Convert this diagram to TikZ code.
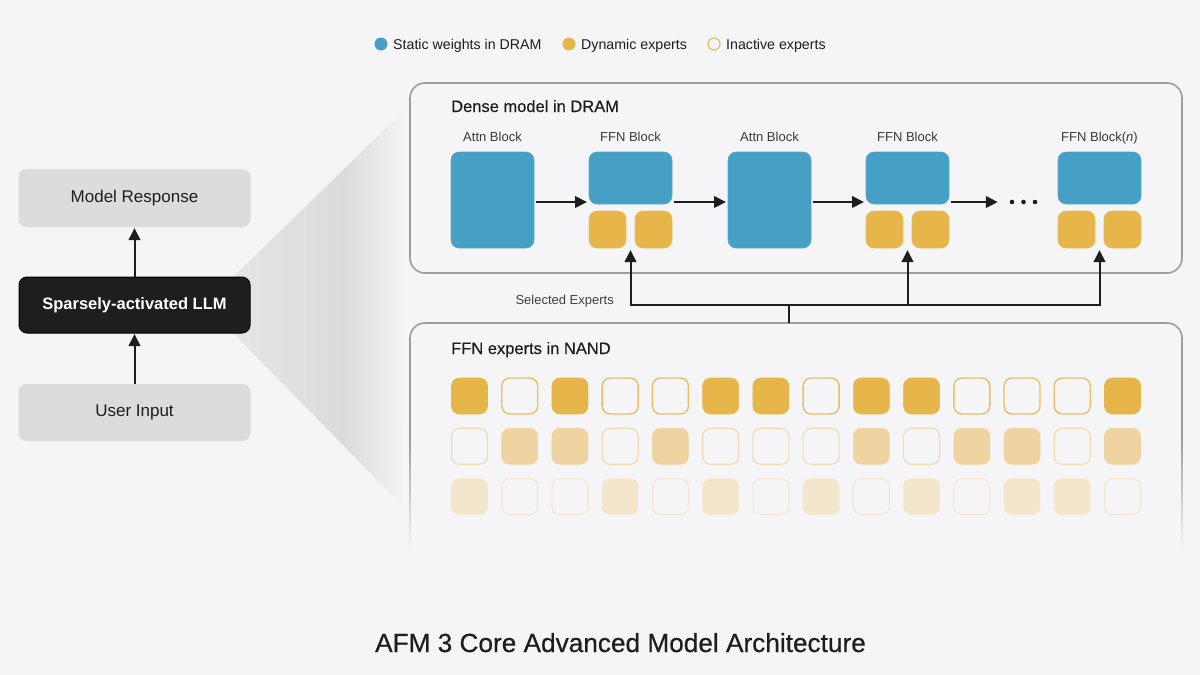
\documentclass[tikz,border=0pt]{standalone}
\usepackage{fontspec}
\setmainfont{Liberation Sans}
\newfontfamily\medfont[FakeBold=0.45]{Liberation Sans}
\usetikzlibrary{arrows.meta,fadings,calc}
\definecolor{bg}{HTML}{F5F5F7}
\definecolor{lightbox}{HTML}{DCDCDC}
\definecolor{darkbox}{HTML}{1E1E1E}
\definecolor{ink}{HTML}{1D1D1F}
\definecolor{subink}{HTML}{3A3A3C}
\definecolor{bluew}{HTML}{469FC4}
\definecolor{yel}{HTML}{E7B64A}
\definecolor{yelo}{HTML}{E9BE64}
\definecolor{yelB}{HTML}{EFD4A2}
\definecolor{yelBo}{HTML}{F0DAB0}
\definecolor{yelC}{HTML}{F4E6CD}
\definecolor{yelCo}{HTML}{F2E5D0}
\definecolor{panelline}{HTML}{9D9D9F}
\definecolor{wedgeA}{HTML}{E5E5E7}
\definecolor{wedgeB}{HTML}{DBDBDD}
\pgfdeclarehorizontalshading{wedgeshade}{100bp}{color(0bp)=(wedgeA); color(25bp)=(wedgeA); color(57bp)=(wedgeB); color(75bp)=(bg); color(100bp)=(bg)}
\tikzset{
  blk/.style={rectangle, rounded corners=8pt, inner sep=0pt, outer sep=0pt},
  bluebox/.style={blk, fill=bluew, draw=bluew!90!white, line width=0.6pt},
  yelbox/.style={blk, fill=yel, draw=yel!90!white, line width=0.6pt, minimum width=37pt, minimum height=37pt},
  leftbox/.style={blk, fill=lightbox, minimum width=232pt, text=ink, font=\fontsize{17}{20}\selectfont},
  panel/.style={rectangle, rounded corners=15pt, draw=panelline, line width=1.6pt, fill=bg, inner sep=0pt, outer sep=0pt},
  arr/.style={draw=ink, line width=2pt, -{Triangle[length=12pt,width=11.5pt]}},
  conn/.style={draw=ink, line width=1.8pt},
  lbl/.style={text=subink, font=\fontsize{13}{15}\selectfont, inner sep=0pt},
  ptitle/.style={text=ink, font=\medfont\fontsize{16.5}{19}\selectfont, inner sep=0pt},
  legtxt/.style={text=ink, font=\fontsize{14.2}{16}\selectfont, inner sep=0pt},
  gsq/.style={blk, minimum width=36pt, minimum height=36pt}
}
\begin{document}
\begin{tikzpicture}[x=1pt,y=-1pt]
\useasboundingbox (0,0) rectangle (1200,675);
\fill[bg] (0,0) rectangle (1200,675);

% wedge
\shade[shading=wedgeshade] (233,277) -- (407,108) -- (402,505) -- (233,333) -- cycle;

% left column
\node[leftbox, minimum height=58pt] (mr) at (134.5,198) {Model Response};
\node[blk, fill=darkbox, draw=black, line width=1pt, minimum width=231pt, minimum height=56pt, text=white, font=\bfseries\fontsize{16.5}{19}\selectfont] (llm) at (134.5,305) {Sparsely-activated LLM};
\node[leftbox, minimum height=57pt] (ui) at (134.5,412.5) {User Input};
\draw[arr, shorten >=1pt] (llm.north) -- (mr.south);
\draw[arr, shorten >=1pt] (ui.north) -- (llm.south);

% legend
\node[circle, fill=bluew, minimum size=13pt, inner sep=0pt] (lg1) at (381,44) {};
\node[legtxt, anchor=base west] (lg1t) at (393,49) {Static weights in DRAM};
\node[circle, fill=yel, minimum size=13pt, inner sep=0pt] (lg2) at (569,44) {};
\node[legtxt, anchor=base west] (lg2t) at (581,49) {Dynamic experts};
\node[circle, draw=yelo, line width=1.2pt, fill=bg, minimum size=12pt, inner sep=0pt] (lg3) at (714,44) {};
\node[legtxt, anchor=base west] (lg3t) at (726,49) {Inactive experts};

% panels
\node[panel, minimum width=772pt, minimum height=190pt] (dense) at (796,178) {};
\node[panel, minimum width=772pt, minimum height=277pt] (nand) at (796,461.5) {};
% fade bottom of NAND panel
\fill[bg, path fading=north] (401,440) rectangle (1193,548);
\fill[bg] (401,547) rectangle (1193,612);

% panel titles
\node[ptitle, anchor=base west] (densetitle) at (451,112) {Dense model in DRAM};
\node[ptitle, anchor=base west] (nandtitle) at (451,354) {FFN experts in NAND};

% dense model blocks
\node[bluebox, minimum width=83pt, minimum height=96pt] (attn1) at (492.5,200) {};
\node[bluebox, minimum width=83pt, minimum height=52pt] (ffn1) at (630.5,178) {};
\node[yelbox] (ffn1a) at (607.5,229.5) {};
\node[yelbox] (ffn1b) at (653.5,229.5) {};
\node[bluebox, minimum width=83pt, minimum height=96pt] (attn2) at (769.5,200) {};
\node[bluebox, minimum width=83pt, minimum height=52pt] (ffn2) at (907.5,178) {};
\node[yelbox] (ffn2a) at (884.5,229.5) {};
\node[yelbox] (ffn2b) at (930.5,229.5) {};
\node[bluebox, minimum width=83pt, minimum height=52pt] (ffnn) at (1099.5,178) {};
\node[yelbox] (ffnna) at (1076.5,229.5) {};
\node[yelbox] (ffnnb) at (1122.5,229.5) {};
\node[minimum width=51pt, minimum height=8pt, inner sep=0pt] (dots) at (1023.5,202) {};
\foreach \dx in {-11.5,0,11.5} \fill[ink] ($(dots.center)+(\dx,0)$) circle (2.3pt);

% block labels
\node[lbl, anchor=base] (l1) at (attn1.center |- 0,141) {Attn Block};
\node[lbl, anchor=base] (l2) at (ffn1.center |- 0,141) {FFN Block};
\node[lbl, anchor=base] (l3) at (attn2.center |- 0,141) {Attn Block};
\node[lbl, anchor=base] (l4) at (ffn2.center |- 0,141) {FFN Block};
\node[lbl, anchor=base] (l5) at (ffnn.center |- 0,141) {FFN Block(\textit{n})};

% horizontal flow arrows
\coordinate (row) at (0,202);
\draw[arr, shorten <=2pt, shorten >=2pt] (attn1.east |- row) -- (ffn1.west |- row);
\draw[arr, shorten <=2pt, shorten >=2pt] (ffn1.east |- row) -- (attn2.west |- row);
\draw[arr, shorten <=2pt, shorten >=2pt] (attn2.east |- row) -- (ffn2.west |- row);
\draw[arr, shorten <=2pt] (ffn2.east |- row) -- (dots.west);

% selected experts routing
\coordinate (sel) at (789,305);
\draw[conn] (nand.north -| sel) -- (sel);
\draw[arr, shorten >=2pt] (sel) -| (ffn1.center |- ffn1a.south);
\draw[arr, shorten >=2pt] (sel) -| (ffn2.center |- ffn2a.south);
\draw[arr, shorten >=2pt] (sel) -| (ffnn.center |- ffnna.south);
\node[lbl, anchor=base east, text=ink!85] (sellbl) at (614,304) {Selected Experts};

% NAND grid
\foreach \r/\pat/\fc/\oc/\lw in {1/{1,0,1,0,0,1,1,0,1,1,0,0,0,1}/yel/yelo/1.4,
                                2/{0,1,1,0,1,0,0,0,1,0,1,1,0,1}/yelB/yelBo/1.2,
                                3/{1,0,0,1,0,1,0,1,0,1,0,1,1,0}/yelC/yelCo/1.1} {
  \foreach \v [count=\c] in \pat {
    \ifnum\v=1
      \node[gsq, fill=\fc, draw=\fc, line width=0.6pt] (g\r-\c) at (419.27+50.23*\c, 345.7+50.3*\r) {};
    \else
      \node[gsq, fill=bg, draw=\oc, line width=\lw pt] (g\r-\c) at (419.27+50.23*\c, 345.7+50.3*\r) {};
    \fi
  }
}

% caption
\node[text=ink, font=\medfont\fontsize{26.2}{30}\selectfont, anchor=base, inner sep=0pt] (caption) at (620.5,652) {AFM 3 Core Advanced Model Architecture};
\end{tikzpicture}
\end{document}
